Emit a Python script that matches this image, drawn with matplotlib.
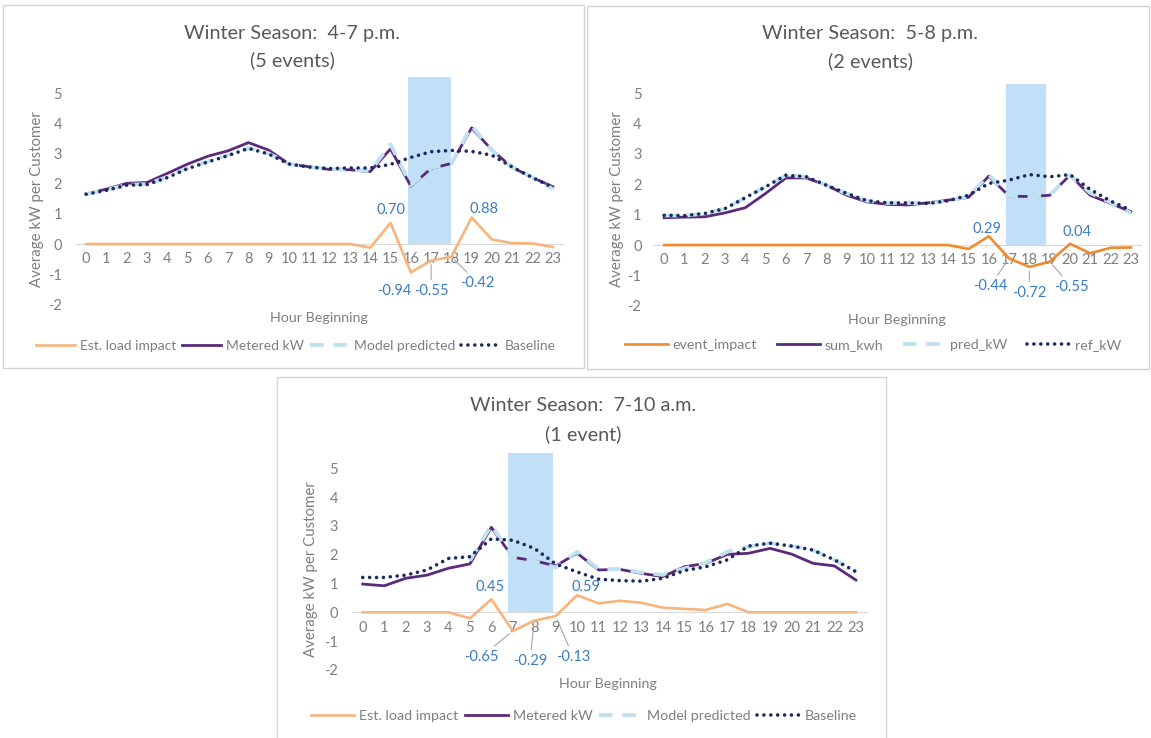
import matplotlib
matplotlib.use("Agg")
import matplotlib.pyplot as plt
from matplotlib.patches import Rectangle

plt.rcParams['font.family'] = ['Lato', 'DejaVu Sans']
plt.rcParams['axes.unicode_minus'] = False

W, H = 1151, 738
hours = list(range(24))

# --- Winter 4-7 p.m. (5 events)
impact_1 = [0, 0, 0, 0, 0, 0, 0, 0, 0, 0, 0, 0, 0, 0, -0.12, 0.70, -0.94, -0.55, -0.42, 0.88, 0.15, 0.03, 0.02, -0.10]
metered_1 = [1.66, 1.82, 2.01, 2.04, 2.34, 2.65, 2.91, 3.09, 3.36, 3.11, 2.65, 2.56, 2.47, 2.46, 2.40, 3.15, 1.92, 2.50, 2.67, 3.85, 3.11, 2.54, 2.20, 1.90]
model_1 = [1.66, 1.79, 1.96, 1.98, 2.22, 2.52, 2.74, 2.95, 3.18, 3.00, 2.65, 2.55, 2.48, 2.47, 2.42, 3.30, 1.95, 2.52, 2.68, 3.92, 3.10, 2.55, 2.20, 1.82]
baseline_1 = [1.65, 1.78, 1.95, 1.97, 2.20, 2.50, 2.72, 2.93, 3.17, 2.98, 2.65, 2.55, 2.50, 2.52, 2.52, 2.64, 2.87, 3.06, 3.10, 3.07, 2.94, 2.55, 2.20, 1.88]
labeled_1 = [15, 16, 17, 18, 19]

# --- Winter 5-8 p.m. (2 events)
impact_2 = [0, 0, 0, 0, 0, 0, 0, 0, 0, 0, 0, 0, 0, 0, 0, -0.13, 0.29, -0.44, -0.72, -0.55, 0.04, -0.27, -0.09, -0.08]
metered_2 = [0.90, 0.92, 0.93, 1.06, 1.23, 1.70, 2.21, 2.21, 1.97, 1.64, 1.42, 1.34, 1.32, 1.39, 1.48, 1.57, 2.27, 1.61, 1.60, 1.64, 2.30, 1.64, 1.37, 1.10]
model_2 = [0.98, 0.97, 1.04, 1.20, 1.56, 1.92, 2.30, 2.25, 1.97, 1.70, 1.46, 1.39, 1.39, 1.37, 1.46, 1.60, 2.32, 1.62, 1.60, 1.65, 2.30, 1.72, 1.40, 1.05]
baseline_2 = [0.98, 0.97, 1.04, 1.20, 1.56, 1.92, 2.30, 2.25, 1.97, 1.70, 1.46, 1.39, 1.39, 1.37, 1.46, 1.64, 2.03, 2.14, 2.32, 2.25, 2.32, 1.83, 1.45, 1.15]
labeled_2 = [16, 17, 18, 19, 20]

# --- Winter 7-10 a.m. (1 event)
nan = float('nan')
impact_3 = [0, 0, 0, 0, 0, -0.21, 0.45, -0.65, -0.29, -0.13, 0.59, 0.31, 0.40, 0.33, 0.16, 0.12, 0.08, 0.29, 0, 0, 0, 0, 0, 0]
metered_3 = [0.98, 0.92, 1.18, 1.29, 1.53, 1.68, 2.95, 1.91, 1.79, 1.61, 2.05, 1.47, 1.49, 1.35, 1.24, 1.58, 1.70, 2.01, 2.05, 2.22, 2.02, 1.70, 1.61, 1.12]
model_3 = [nan, nan, nan, nan, nan, 1.80, 3.02, 1.92, 1.78, 1.55, 2.10, 1.50, 1.50, 1.38, 1.30, 1.52, 1.72, 2.10, 2.28, 2.40, 2.30, 2.16, 1.82, 1.41]
baseline_3 = [1.21, 1.21, 1.29, 1.47, 1.87, 1.93, 2.55, 2.50, 2.22, 1.68, 1.40, 1.15, 1.10, 1.08, 1.18, 1.45, 1.58, 1.82, 2.30, 2.40, 2.30, 2.16, 1.82, 1.41]
labeled_3 = [6, 7, 8, 9, 10]

names_a = ["Est. load impact", "Metered kW", "Model predicted", "Baseline"]
names_b = ["event_impact", "sum_kwh", "pred_kW", "ref_kW"]

GRAY = "#7f7f7f"
TITLE = "#595959"
PURPLE = "#5c2a7c"
LBLUE = "#bfe2ee"
NAVY = "#1c2b5e"
RECT = "#c2dff8"
LABEL = "#3b7cc0"
LEADER = "#a6a6a6"


def box(l, t, r, b):
    return [l / W, 1 - b / H, (r - l) / W, (b - t) / H]


def draw_panel(fig, axbox, impact, metered, model, baseline, window, rect_top,
               labeled, offsets, leaders, orange, ypad):
    ax = fig.add_axes(axbox)
    ax.patch.set_alpha(0)
    ax.add_patch(Rectangle((window[0], 0), window[1] - window[0], rect_top,
                           color=RECT, lw=0, zorder=1))
    lines = []
    lines += ax.plot(hours, impact, color=orange, lw=1.9, zorder=3)
    lines += ax.plot(hours, metered, color=PURPLE, lw=2.0, zorder=4)
    lines += ax.plot(hours, model, color=LBLUE, lw=2.8, dashes=(3.5, 2.5), zorder=5)
    lines += ax.plot(hours, baseline, color=NAVY, lw=2.6, dashes=(0.01, 1.9),
                     dash_capstyle='round', zorder=6)
    ax.set_xlim(-0.5, 23.5)
    ax.set_ylim(-2, 5.6)
    ax.set_xticks(hours)
    ax.set_yticks(range(-2, 6))
    for s in ['top', 'right', 'left']:
        ax.spines[s].set_visible(False)
    ax.spines['bottom'].set_position(('data', 0))
    ax.spines['bottom'].set_color("#d9d9d9")
    ax.tick_params(length=0, colors=GRAY, labelsize=10.5)
    ax.tick_params(axis='x', pad=6)
    ax.tick_params(axis='y', pad=ypad)

    for h, (dx, dy), lead in zip(labeled, offsets, leaders):
        v = impact[h]
        props = None
        if lead:
            props = dict(arrowstyle='-', color=LEADER, lw=0.8, shrinkA=1, shrinkB=3)
        ax.annotate(f"{v:.2f}", xy=(h, v), xytext=(h + dx, v + dy),
                    ha='center', va='center', color=LABEL, fontsize=10.5,
                    arrowprops=props, zorder=7)
    return lines


fig = plt.figure(figsize=(W / 100, H / 100), dpi=100)

# panel frames
for l, t, r, b in [(3, 5, 584, 368), (587, 6, 1149, 369), (277, 377, 886, 745)]:
    fig.add_artist(Rectangle((l / W, 1 - b / H), (r - l) / W, (b - t) / H,
                             transform=fig.transFigure, fill=False,
                             ec="#d4d4d4", lw=1))

l1 = draw_panel(fig, box(76, 75, 563, 304.4), impact_1, metered_1, model_1, baseline_1,
                (15.86, 17.98), 5.53, labeled_1,
                [(0, 0.43), (-0.83, -0.61), (0.0, -1.0), (1.3, -0.87), (0.6, 0.28)],
                [False, False, True, True, False], "#f8b47c", 10)
l2 = draw_panel(fig, box(654, 75, 1141, 305.8), impact_2, metered_2, model_2, baseline_2,
                (16.85, 18.82), 5.29, labeled_2,
                [(-0.1, 0.23), (-0.94, -0.91), (0.0, -0.85), (1.08, -0.82), (0.33, 0.38)],
                [False, True, True, True, False], "#ef8a2e", 9)
l3 = draw_panel(fig, box(352, 451, 866.6, 669.9), impact_3, metered_3, model_3, baseline_3,
                (6.78, 8.87), 5.52, labeled_3,
                [(-0.07, 0.44), (-1.46, -0.89), (-0.2, -1.39), (0.81, -1.41), (0.4, 0.3)],
                [False, True, True, True, False], "#f8b47c", 10)

# titles
for x, y1, y2, t1, t2 in [(292, 33, 60, "Winter Season:  4-7 p.m.", "(5 events)"),
                          (870, 33, 61, "Winter Season:  5-8 p.m.", "(2 events)"),
                          (583, 405, 434, "Winter Season:  7-10 a.m.", "(1 event)")]:
    fig.text(x / W, 1 - y1 / H, t1, ha='center', va='center', fontsize=14.3, color=TITLE)
    fig.text(x / W, 1 - y2 / H, t2, ha='center', va='center', fontsize=14.3, color=TITLE)

# axis titles
for x, y in [(37, 199), (617, 199), (311, 569)]:
    fig.text(x / W, 1 - y / H, "Average kW per Customer", rotation=90,
             ha='center', va='center', fontsize=10.8, color=GRAY)
for x, y in [(319, 318), (897, 320), (608, 684)]:
    fig.text(x / W, 1 - y / H, "Hour Beginning", ha='center', va='center',
             fontsize=10.3, color=GRAY)

# legends
fig.legend(l1, names_a, loc='center', bbox_to_anchor=(296 / W, 1 - 346 / H), ncol=4,
           frameon=False, fontsize=10, handlelength=2.8, handletextpad=0.35,
           columnspacing=0.45, labelcolor=GRAY)
fig.legend(l2, names_b, loc='center', bbox_to_anchor=(873 / W, 1 - 345 / H), ncol=4,
           frameon=False, fontsize=10.3, handlelength=3, handletextpad=0.3,
           columnspacing=1.4, labelcolor=GRAY)
fig.legend(l3, names_a, loc='center', bbox_to_anchor=(584 / W, 1 - 716 / H), ncol=4,
           frameon=False, fontsize=10.3, handlelength=3, handletextpad=0.35,
           columnspacing=0.45, labelcolor=GRAY)

fig.savefig("out.png", dpi=100)
